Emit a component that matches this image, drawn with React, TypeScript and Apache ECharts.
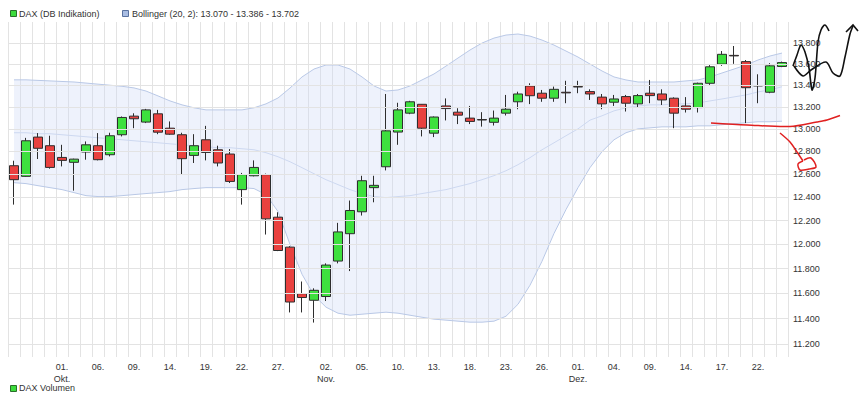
import React, { useEffect, useRef } from 'react';
import * as echarts from 'echarts';

const dates = [
  '2020-09-25', '2020-09-28', '2020-09-29', '2020-09-30',
  '2020-10-01', '2020-10-02', '2020-10-05', '2020-10-06', '2020-10-07', '2020-10-08', '2020-10-09',
  '2020-10-12', '2020-10-13', '2020-10-14', '2020-10-15', '2020-10-16', '2020-10-19', '2020-10-20',
  '2020-10-21', '2020-10-22', '2020-10-23', '2020-10-26', '2020-10-27', '2020-10-28', '2020-10-29', '2020-10-30',
  '2020-11-02', '2020-11-03', '2020-11-04', '2020-11-05', '2020-11-06', '2020-11-09', '2020-11-10',
  '2020-11-11', '2020-11-12', '2020-11-13', '2020-11-16', '2020-11-17', '2020-11-18', '2020-11-19',
  '2020-11-20', '2020-11-23', '2020-11-24', '2020-11-25', '2020-11-26', '2020-11-27', '2020-11-30',
  '2020-12-01', '2020-12-02', '2020-12-03', '2020-12-04', '2020-12-07', '2020-12-08', '2020-12-09',
  '2020-12-10', '2020-12-11', '2020-12-14', '2020-12-15', '2020-12-16', '2020-12-17', '2020-12-18',
  '2020-12-21', '2020-12-22', '2020-12-23', '2020-12-28',
];

const opens = [
  12673, 12580, 12927, 12850, 12746, 12703, 12794, 12850, 12770, 12948, 13116,
  13062, 13137, 13007, 12948, 12764, 12903, 12814, 12776, 12465, 12585, 12595,
  12229, 11978, 11598, 11545, 11575, 11863, 12090, 12275, 12482, 12664, 12972,
  13143, 13224, 12962, 13209, 13152, 13098, 13085, 13060, 13143, 13247, 13393,
  13326, 13280, 13335, 13387, 13341, 13290, 13243, 13295, 13228, 13326, 13319,
  13280, 13209, 13194, 13418, 13597, 13680, 13621, 13396, 13335, 13575,
];
const closes = [
  12551, 12894, 12827, 12658, 12720, 12731, 12858, 12726, 12939, 13104, 13092,
  13173, 12971, 12953, 12735, 12850, 12790, 12697, 12536, 12595, 12658, 12215,
  11950, 11531, 11567, 11625, 11830, 12105, 12286, 12542, 12502, 12983, 13173,
  13247, 13007, 13108, 13185, 13125, 13068, 13081, 13098, 13179, 13319, 13303,
  13280, 13362, 13329, 13384, 13319, 13228, 13273, 13234, 13304, 13304, 13264,
  13143, 13179, 13418, 13572, 13690, 13675, 13377, 13394, 13581, 13612,
];
const lows = [
  12336, 12577, 12732, 12647, 12667, 12456, 12726, 12720, 12755, 12933, 13007,
  13053, 12953, 12948, 12595, 12697, 12720, 12667, 12522, 12336, 12580, 12083,
  11945, 11448, 11448, 11368, 11539, 11844, 11781, 12243, 12356, 12632, 12858,
  13134, 12933, 12927, 13077, 13044, 13044, 13021, 13031, 13122, 13179, 13226,
  13247, 13247, 13234, 13326, 13264, 13179, 13209, 13158, 13197, 13234, 13218,
  13007, 13149, 13149, 13403, 13581, 13600, 13053, 13234, 13326, 13569,
];
const highs = [
  12717, 12920, 12963, 12939, 12858, 12735, 12888, 12963, 12966, 13113, 13142,
  13182, 13173, 13068, 12966, 12953, 13028, 12850, 12820, 12610, 12720, 12604,
  12271, 11986, 11696, 11641, 11844, 12181, 12371, 12585, 12585, 13319, 13238,
  13256, 13226, 13113, 13278, 13188, 13209, 13152, 13167, 13310, 13340, 13418,
  13356, 13387, 13441, 13441, 13362, 13319, 13310, 13310, 13319, 13449, 13362,
  13288, 13290, 13424, 13588, 13721, 13769, 13636, 13502, 13606, 13621,
];

const bbUpper = [
  13450, 13450, 13445, 13440, 13435, 13430, 13420, 13410, 13400, 13390, 13375,
  13346, 13301, 13255, 13219, 13192, 13173, 13173, 13173, 13173, 13192, 13228,
  13282, 13374, 13477, 13551, 13589, 13589, 13551, 13477, 13393, 13346, 13356,
  13393, 13449, 13505, 13579, 13655, 13731, 13797, 13845, 13874, 13884, 13864,
  13826, 13778, 13721, 13664, 13598, 13533, 13477, 13449, 13430, 13430, 13430,
  13430, 13440, 13449, 13477, 13514, 13551, 13589, 13636, 13674, 13702,
];
const bbMid = [
  12966, 12966, 12957, 12957, 12948, 12939, 12930, 12921, 12912, 12903, 12894,
  12885, 12876, 12867, 12858, 12850, 12841, 12832, 12832, 12823, 12814, 12788,
  12752, 12708, 12656, 12603, 12551, 12508, 12465, 12431, 12405, 12396, 12405,
  12413, 12431, 12448, 12465, 12491, 12517, 12551, 12586, 12629, 12682, 12744,
  12814, 12876, 12939, 13001, 13080, 13119, 13164, 13192, 13209, 13219, 13219,
  13228, 13228, 13237, 13255, 13273, 13292, 13310, 13338, 13356, 13386,
];
const bbLower = [
  12525, 12517, 12499, 12482, 12465, 12439, 12413, 12405, 12405, 12413, 12422,
  12431, 12439, 12448, 12465, 12474, 12482, 12482, 12482, 12482, 12474, 12422,
  12277, 12000, 11755, 11585, 11490, 11442, 11426, 11434, 11442, 11450, 11442,
  11426, 11410, 11395, 11387, 11379, 11371, 11371, 11379, 11418, 11513, 11666,
  11861, 12092, 12294, 12482, 12656, 12797, 12903, 12966, 13001, 13010, 13019,
  13019, 13019, 13028, 13028, 13038, 13047, 13056, 13065, 13065, 13070,
];

const yTicks = [11200, 11400, 11600, 11800, 12000, 12200, 12400, 12600, 12800, 13000, 13200, 13400, 13600, 13800];
const xLabelIdx = [4, 7, 10, 13, 16, 19, 22, 26, 29, 32, 35, 38, 41, 44, 47, 50, 53, 56, 59, 62];
const monthNames = ['Jan.', 'Feb.', 'März', 'Apr.', 'Mai', 'Juni', 'Juli', 'Aug.', 'Sep.', 'Okt.', 'Nov.', 'Dez.'];

const legendMain = 'DAX (DB Indikation)';
const legendBoll = 'Bollinger (20, 2): 13.070 - 13.386 - 13.702';
const legendVol = 'DAX Volumen';

const FONT = '"Liberation Sans", Arial, sans-serif';

function fmtNum(v: number) {
  const th = Math.floor(v / 1000);
  const rest = String(Math.round(v % 1000)).padStart(3, '0');
  return th + '.' + rest;
}

export default function App() {
  const ref = useRef<HTMLDivElement>(null);
  useEffect(() => {
    document.body.style.margin = '0';
    if (!ref.current) return;
    const chart = echarts.init(ref.current, null, { renderer: 'svg' });
    const bandWidth = bbUpper.map((u, i) => u - bbLower[i]);
    chart.setOption({
      animation: false,
      backgroundColor: '#ffffff',
      grid: { left: 8, right: 76, top: 22, bottom: 37 },
      xAxis: {
        type: 'category',
        data: dates,
        boundaryGap: true,
        axisLine: { show: false },
        axisTick: { show: false },
        splitLine: { show: true, interval: 0, lineStyle: { color: '#e3e3e3', width: 1 } },
        axisLabel: {
          interval: (idx: number) => xLabelIdx.includes(idx),
          color: '#333',
          fontSize: 9,
          fontFamily: FONT,
          lineHeight: 12,
          margin: 4,
          formatter: (val: string, idx: number) => {
            const day = val.slice(8, 10) + '.';
            const m = parseInt(val.slice(5, 7), 10);
            const prev = idx > 0 ? parseInt(dates[idx - 1].slice(5, 7), 10) : m;
            return m !== prev ? day + '\n' + monthNames[m - 1] : day;
          },
        },
      },
      yAxis: { type: 'log', min: 11100, max: 14000, show: false },
      series: [
        {
          type: 'line',
          name: 'bbBase',
          stack: 'bb',
          data: bbLower,
          symbol: 'none',
          lineStyle: { opacity: 0 },
          z: 1,
          silent: true,
          markLine: {
            silent: true,
            symbol: ['none', 'none'],
            lineStyle: { color: '#e3e3e3', width: 1, type: 'solid' },
            label: {
              position: 'end',
              color: '#333',
              fontSize: 9,
              fontFamily: FONT,
              distance: 5,
              formatter: (p: any) => fmtNum(p.value),
            },
            data: yTicks.map((v) => ({ yAxis: v })),
          },
        },
        {
          type: 'line',
          name: 'bbBand',
          stack: 'bb',
          data: bandWidth,
          symbol: 'none',
          lineStyle: { color: '#b9c8e6', width: 1 },
          areaStyle: { color: 'rgba(200, 215, 247, 0.45)' },
          z: 2,
          silent: true,
        },
        {
          type: 'line',
          name: 'bbLower',
          data: bbLower,
          symbol: 'none',
          lineStyle: { color: '#b9c8e6', width: 1 },
          z: 2,
          silent: true,
        },
        {
          type: 'line',
          name: 'bbMid',
          data: bbMid,
          symbol: 'none',
          lineStyle: { color: '#cdd8f0', width: 1 },
          z: 2,
          silent: true,
        },
        {
          type: 'candlestick',
          name: 'DAX',
          data: dates.map((_, i) => [opens[i], closes[i], lows[i], highs[i]]),
          barWidth: 9,
          z: 3,
          itemStyle: {
            color: '#3ee03e',
            color0: '#e9413f',
            borderColor: '#2e2e2e',
            borderColor0: '#2e2e2e',
            borderWidth: 1,
          },
        },
      ],
      graphic: [
        { type: 'rect', shape: { x: 10.5, y: 10.5, width: 6, height: 6 }, style: { fill: '#3cdc3c', stroke: '#2a6e2a', lineWidth: 1 } },
        { type: 'text', x: 19, y: 14, style: { text: legendMain, fill: '#333', fontSize: 9, fontFamily: FONT, verticalAlign: 'middle' } },
        { type: 'rect', shape: { x: 122.5, y: 10.5, width: 6, height: 6 }, style: { fill: '#a9bde3', stroke: '#5a72a0', lineWidth: 1 } },
        { type: 'text', x: 132, y: 14, style: { text: legendBoll, fill: '#333', fontSize: 9, fontFamily: FONT, verticalAlign: 'middle' } },
        { type: 'rect', shape: { x: 10.5, y: 385.5, width: 6, height: 6 }, style: { fill: '#3cdc3c', stroke: '#2a6e2a', lineWidth: 1 } },
        { type: 'text', x: 19, y: 388, style: { text: legendVol, fill: '#333', fontSize: 9, fontFamily: FONT, verticalAlign: 'middle' } },
        // hand-drawn annotations
        {
          type: 'polyline', z: 100,
          shape: { points: [[793, 66], [797, 55], [801, 45], [805, 52], [809, 68], [812, 90], [815, 78], [818, 42], [821, 30], [825, 25], [829, 31]], smooth: 0.3 },
          style: { stroke: '#111', lineWidth: 1.6, fill: null },
        },
        {
          type: 'polyline', z: 100,
          shape: { points: [[794, 66], [803, 76], [811, 70], [826, 62], [833, 73], [840, 76], [845, 57], [850, 34], [853, 26]], smooth: 0.3 },
          style: { stroke: '#111', lineWidth: 1.6, fill: null },
        },
        {
          type: 'polyline', z: 100,
          shape: { points: [[846, 32], [853, 25], [858, 31]] },
          style: { stroke: '#111', lineWidth: 1.6, fill: null },
        },
        {
          type: 'polyline', z: 100,
          shape: { points: [[711, 123], [747, 125], [790, 126.5], [817, 122], [827, 120], [840, 115.5]], smooth: 0.3 },
          style: { stroke: '#e02020', lineWidth: 1.5, fill: null },
        },
        {
          type: 'polyline', z: 100,
          shape: { points: [[780, 133], [790, 142], [797, 152], [803, 161]], smooth: 0.3 },
          style: { stroke: '#e02020', lineWidth: 1.5, fill: null },
        },
        {
          type: 'polyline', z: 100,
          shape: { points: [[803, 161], [798, 164], [800, 170], [809, 169], [816, 167], [811, 158], [804, 160]], smooth: 0.3 },
          style: { stroke: '#e02020', lineWidth: 1.5, fill: null },
        },
      ],
    });
    return () => chart.dispose();
  }, []);
  return <div ref={ref} style={{ width: 864, height: 394 }} />;
}
